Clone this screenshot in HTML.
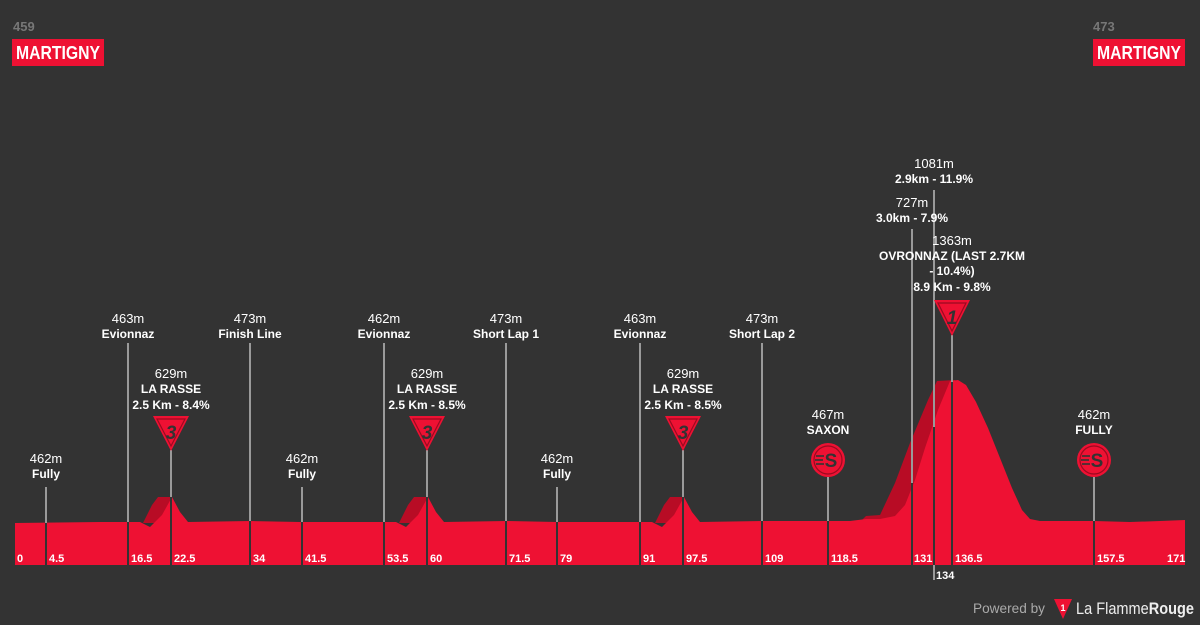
<!DOCTYPE html>
<html><head><meta charset="utf-8"><style>
html,body{margin:0;padding:0;background:#333;}
svg{display:block;font-family:"Liberation Sans",sans-serif;}
.e{fill:#fff;font-size:13px;text-anchor:middle;}
.n{fill:#fff;font-size:12px;font-weight:bold;text-anchor:middle;}
.k{fill:#fff;font-size:11px;font-weight:bold;}
.g{stroke:#9a9a9a;stroke-width:2;}
.d{stroke:#333;stroke-width:2;}
.t{font-size:19px;fill:#333;text-anchor:middle;font-style:italic;font-weight:bold;}
</style></head><body>
<svg width="1200" height="625" viewBox="0 0 1200 625">
<rect width="1200" height="625" fill="#333"/>
<text x="13" y="31" fill="#777" font-size="13" font-weight="bold">459</text>
<rect x="12" y="39" width="92" height="27" fill="#ee1133"/>
<text x="16" y="59" fill="#fff" font-size="18" font-weight="bold" textLength="84" lengthAdjust="spacingAndGlyphs">MARTIGNY</text>
<text x="1093" y="31" fill="#777" font-size="13" font-weight="bold">473</text>
<rect x="1093" y="39" width="92" height="27" fill="#ee1133"/>
<text x="1097" y="59" fill="#fff" font-size="18" font-weight="bold" textLength="84" lengthAdjust="spacingAndGlyphs">MARTIGNY</text>

<polygon fill="#b80c25" points="143,523 152,505 158,497 172,497 172,523"/>
<polygon fill="#b80c25" points="399,523 408,505 414,497 428,497 428,523"/>
<polygon fill="#b80c25" points="655,523 664,505 670,497 684,497 684,523"/>
<polygon fill="#b80c25" points="862,520 866,516 880,515 895,483 910,443 928,400 937,381 955,380 955,520"/>
<polygon fill="#ee1133" points="15,565 15,523 100,522 140,522 150,527 162,515 172,497 180,512 188,522 250,521 300,522 396,522 406,527 418,515 428,497 436,512 444,522 506,521 557,522 652,522 662,527 674,515 684,497 692,512 700,522 762,521 828,521 850,521 866,519 880,519 895,516 905,505 915,480 925,448 938,410 950,381 958,380 966,385 976,402 988,428 1000,458 1012,488 1022,510 1030,519 1040,521 1094,521 1130,522 1160,521 1185,520 1185,565"/>

<g>
<line class="g" x1="46" y1="487" x2="46" y2="523"/><line class="d" x1="46" y1="523" x2="46" y2="565"/>
<line class="g" x1="128" y1="343" x2="128" y2="522"/><line class="d" x1="128" y1="522" x2="128" y2="565"/>
<line class="g" x1="171" y1="450" x2="171" y2="497"/><line class="d" x1="171" y1="497" x2="171" y2="565"/>
<line class="g" x1="250" y1="343" x2="250" y2="521"/><line class="d" x1="250" y1="521" x2="250" y2="565"/>
<line class="g" x1="302" y1="487" x2="302" y2="522"/><line class="d" x1="302" y1="522" x2="302" y2="565"/>
<line class="g" x1="384" y1="343" x2="384" y2="522"/><line class="d" x1="384" y1="522" x2="384" y2="565"/>
<line class="g" x1="427" y1="450" x2="427" y2="497"/><line class="d" x1="427" y1="497" x2="427" y2="565"/>
<line class="g" x1="506" y1="343" x2="506" y2="521"/><line class="d" x1="506" y1="521" x2="506" y2="565"/>
<line class="g" x1="557" y1="487" x2="557" y2="522"/><line class="d" x1="557" y1="522" x2="557" y2="565"/>
<line class="g" x1="640" y1="343" x2="640" y2="522"/><line class="d" x1="640" y1="522" x2="640" y2="565"/>
<line class="g" x1="683" y1="450" x2="683" y2="497"/><line class="d" x1="683" y1="497" x2="683" y2="565"/>
<line class="g" x1="762" y1="343" x2="762" y2="521"/><line class="d" x1="762" y1="521" x2="762" y2="565"/>
<line class="g" x1="828" y1="477" x2="828" y2="521"/><line class="d" x1="828" y1="521" x2="828" y2="565"/>
<line class="g" x1="912" y1="229" x2="912" y2="483"/><line class="d" x1="912" y1="483" x2="912" y2="565"/>
<line class="g" x1="934" y1="190" x2="934" y2="427"/><line class="d" x1="934" y1="427" x2="934" y2="565"/>
<line class="g" x1="934" y1="565" x2="934" y2="580"/>
<line class="g" x1="952" y1="335" x2="952" y2="382"/><line class="d" x1="952" y1="382" x2="952" y2="565"/>
<line class="g" x1="1094" y1="477" x2="1094" y2="521"/><line class="d" x1="1094" y1="521" x2="1094" y2="565"/>
</g>

<g class="k">
<text x="17" y="562">0</text><text x="49" y="562">4.5</text><text x="131" y="562">16.5</text><text x="174" y="562">22.5</text>
<text x="253" y="562">34</text><text x="305" y="562">41.5</text><text x="387" y="562">53.5</text><text x="430" y="562">60</text>
<text x="509" y="562">71.5</text><text x="560" y="562">79</text><text x="643" y="562">91</text><text x="686" y="562">97.5</text>
<text x="765" y="562">109</text><text x="831" y="562">118.5</text><text x="914" y="562">131</text><text x="955" y="562">136.5</text>
<text x="1097" y="562">157.5</text><text x="1167" y="562">171</text>
<text x="936" y="579">134</text>
</g>

<text class="e" x="46" y="463">462m</text><text class="n" x="46" y="478">Fully</text>
<text class="e" x="128" y="323">463m</text><text class="n" x="128" y="338">Evionnaz</text>
<text class="e" x="250" y="323">473m</text><text class="n" x="250" y="338">Finish Line</text>
<text class="e" x="302" y="463">462m</text><text class="n" x="302" y="478">Fully</text>
<text class="e" x="384" y="323">462m</text><text class="n" x="384" y="338">Evionnaz</text>
<text class="e" x="506" y="323">473m</text><text class="n" x="506" y="338">Short Lap 1</text>
<text class="e" x="557" y="463">462m</text><text class="n" x="557" y="478">Fully</text>
<text class="e" x="640" y="323">463m</text><text class="n" x="640" y="338">Evionnaz</text>
<text class="e" x="762" y="323">473m</text><text class="n" x="762" y="338">Short Lap 2</text>

<text class="e" x="171" y="378">629m</text><text class="n" x="171" y="393">LA RASSE</text><text class="n" x="171" y="409">2.5 Km - 8.4%</text>
<text class="e" x="427" y="378">629m</text><text class="n" x="427" y="393">LA RASSE</text><text class="n" x="427" y="409">2.5 Km - 8.5%</text>
<text class="e" x="683" y="378">629m</text><text class="n" x="683" y="393">LA RASSE</text><text class="n" x="683" y="409">2.5 Km - 8.5%</text>

<text class="e" x="828" y="419">467m</text><text class="n" x="828" y="434">SAXON</text>
<text class="e" x="1094" y="419">462m</text><text class="n" x="1094" y="434">FULLY</text>

<text class="e" x="912" y="207">727m</text><text class="n" x="912" y="222">3.0km - 7.9%</text>
<text class="e" x="934" y="168">1081m</text><text class="n" x="934" y="183">2.9km - 11.9%</text>
<text class="e" x="952" y="245">1363m</text><text class="n" x="952" y="260">OVRONNAZ (LAST 2.7KM</text>
<text class="n" x="952" y="275">- 10.4%)</text><text class="n" x="952" y="291">8.9 Km - 9.8%</text>

<g>
<polygon points="153,416 189,416 171,451" fill="#ee1133"/><polygon points="157,419 185,419 171,446" fill="none" stroke="#9a0a20" stroke-width="1.2"/><text class="t" x="171" y="439">3</text>
<polygon points="409,416 445,416 427,451" fill="#ee1133"/><polygon points="413,419 441,419 427,446" fill="none" stroke="#9a0a20" stroke-width="1.2"/><text class="t" x="427" y="439">3</text>
<polygon points="665,416 701,416 683,451" fill="#ee1133"/><polygon points="669,419 697,419 683,446" fill="none" stroke="#9a0a20" stroke-width="1.2"/><text class="t" x="683" y="439">3</text>
<polygon points="934,300 970,300 952,336" fill="#ee1133"/><polygon points="938,303 966,303 952,331" fill="none" stroke="#9a0a20" stroke-width="1.2"/><text class="t" x="952" y="324">1</text>
</g>
<g>
<circle cx="828" cy="460" r="17" fill="#ee1133"/><circle cx="828" cy="460" r="14" fill="none" stroke="#9a0a20" stroke-width="1.2"/>
<text x="831" y="467" font-size="19" font-weight="bold" fill="#333" text-anchor="middle">S</text>
<line x1="816" y1="456" x2="824" y2="456" stroke="#333" stroke-width="1.6"/><line x1="815" y1="460" x2="823" y2="460" stroke="#333" stroke-width="1.6"/><line x1="816" y1="464" x2="824" y2="464" stroke="#333" stroke-width="1.6"/>
<circle cx="1094" cy="460" r="17" fill="#ee1133"/><circle cx="1094" cy="460" r="14" fill="none" stroke="#9a0a20" stroke-width="1.2"/>
<text x="1097" y="467" font-size="19" font-weight="bold" fill="#333" text-anchor="middle">S</text>
<line x1="1082" y1="456" x2="1090" y2="456" stroke="#333" stroke-width="1.6"/><line x1="1081" y1="460" x2="1089" y2="460" stroke="#333" stroke-width="1.6"/><line x1="1082" y1="464" x2="1090" y2="464" stroke="#333" stroke-width="1.6"/>
</g>

<text x="973" y="613" fill="#aaa" font-size="14" textLength="72" lengthAdjust="spacingAndGlyphs">Powered by</text>
<polygon points="1054,599 1072,599 1063,619" fill="#ee1133"/>
<text x="1063" y="611" fill="#fff" font-size="9" font-weight="bold" text-anchor="middle">1</text>
<text x="1076" y="614" fill="#eee" font-size="17" textLength="118" lengthAdjust="spacingAndGlyphs">La Flamme<tspan font-weight="bold">Rouge</tspan></text>
</svg>
</body></html>
